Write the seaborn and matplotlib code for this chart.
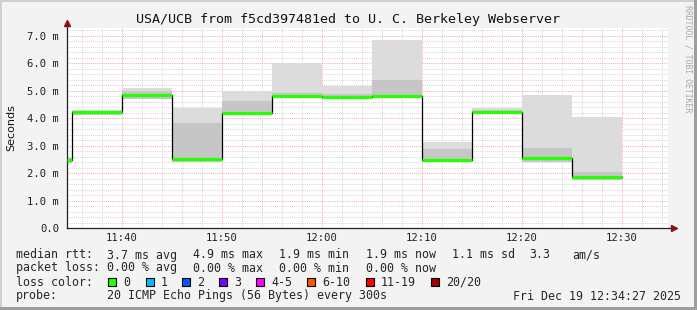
import numpy as np
import pandas as pd
import matplotlib
matplotlib.use("Agg")
import matplotlib.pyplot as plt
from matplotlib.patches import Rectangle
import seaborn as sns

# ---------------- data ----------------
# interval start times (hh:mm:ss); each value holds until the next start
interval_start = ["11:34:30", "11:35", "11:40", "11:45", "11:50", "11:55",
                  "12:00", "12:05", "12:10", "12:15", "12:20", "12:25"]
interval_end = "12:30"
median_ms = [2.48, 4.22, 4.84, 2.52, 4.19, 4.81, 4.78, 4.81, 2.48, 4.24, 2.54, 1.87]
smoke_low = [2.38, 4.11, 4.70, 2.39, 4.13, 4.76, 4.74, 4.76, 2.43, 4.15, 2.42, 1.75]
smoke_mid = [2.53, 4.27, 4.99, 3.83, 4.62, 4.92, 4.86, 5.39, 2.86, 4.30, 2.90, 2.05]
smoke_high = [2.57, 4.30, 5.09, 4.38, 4.99, 6.00, 5.18, 6.84, 3.13, 4.38, 4.84, 4.05]

x_tick_labels = ["11:40", "11:50", "12:00", "12:10", "12:20", "12:30"]
y_tick_values = [0, 1, 2, 3, 4, 5, 6, 7]
y_tick_labels = ["0.0", "1.0 m", "2.0 m", "3.0 m", "4.0 m", "5.0 m", "6.0 m", "7.0 m"]

title = "USA/UCB from f5cd397481ed to U. C. Berkeley Webserver"
legend_rows = [
    ("median rtt:", [("3.7 ms avg", 107), ("4.9 ms max", 193), ("1.9 ms min", 279),
                     ("1.9 ms now", 366), ("1.1 ms sd", 452), ("3.3", 529), ("am/s", 572)]),
    ("packet loss:", [("0.00 % avg", 107), ("0.00 % max", 193), ("0.00 % min", 279),
                      ("0.00 % now", 366)]),
]
loss_labels = ["0", "1", "2", "3", "4-5", "6-10", "11-19", "20/20"]
loss_colors = ["#26ff00", "#00b8ff", "#0059ff", "#7e00ff", "#ff00ff", "#ff5500", "#ff0000", "#a10000"]
probe_text = "20 ICMP Echo Pings (56 Bytes) every 300s"
stamp_text = "Fri Dec 19 12:34:27 2025"


def to_min(s):
    p = [int(v) for v in s.split(":")]
    while len(p) < 3:
        p.append(0)
    return p[0] * 60 + p[1] + p[2] / 60.0


xs = [to_min(s) for s in interval_start] + [to_min(interval_end)]
df = pd.DataFrame({
    "t": xs,
    "median": median_ms + [median_ms[-1]],
    "low": smoke_low + [smoke_low[-1]],
    "mid": smoke_mid + [smoke_mid[-1]],
    "high": smoke_high + [smoke_high[-1]],
})

# ---------------- figure ----------------
sns.set_theme(style="white")
plt.rcParams["font.family"] = ["DejaVu Sans Mono", "DejaVu Sans"]

W, H = 697, 310
fig = plt.figure(figsize=(W / 100, H / 100), dpi=100)
fig.patch.set_facecolor("#f3f3f3")

L, R, T, B = 67, 668, 28, 228
ax = fig.add_axes([L / W, 1 - B / H, (R - L) / W, (B - T) / H])
ax.set_facecolor("white")

xmin, xmax = 694.5, 694.5 + (R - L) / 10.0
ymin, ymax = 0.0, 7.28
ax.set_xlim(xmin, xmax)
ax.set_ylim(ymin, ymax)

# grids
minor_col = "#d2d2d2"
major_col = "#f2a8a8"
dot = (0, (1, 1.2))
for v in np.arange(696, xmax, 2):
    if int(round(v)) % 10:
        ax.axvline(v, color=minor_col, lw=0.7, ls=dot, zorder=0)
for v in np.arange(0.2, ymax, 0.2):
    if abs(v - round(v)) > 1e-6:
        ax.axhline(v, color=minor_col, lw=0.7, ls=dot, zorder=0)
for v in range(700, 760, 10):
    ax.axvline(v, color=major_col, lw=0.7, ls=dot, zorder=0.5)
for v in range(1, 8):
    ax.axhline(v, color=major_col, lw=0.7, ls=dot, zorder=0.5)

# smoke
ax.fill_between(df["t"], df["low"], df["high"], step="post", color="#dcdcdc", lw=0, zorder=1)
ax.fill_between(df["t"], df["low"], df["mid"], step="post", color="#c6c6c6", lw=0, zorder=1.1)

# median step line (black) and loss-colored median bars
sns.lineplot(data=df, x="t", y="median", drawstyle="steps-post", color="black",
             lw=0.9, ax=ax, zorder=2, legend=False)
ax.hlines(median_ms, xs[:-1], xs[1:], colors=loss_colors[0], lw=2.3, zorder=3)

# axes styling
ax.set_xlabel("")
ax.set_ylabel("")
for s in ["top", "right"]:
    ax.spines[s].set_visible(False)
for s in ["left", "bottom"]:
    ax.spines[s].set_color("#202020")
    ax.spines[s].set_linewidth(0.9)

ax.set_xticks([to_min(s) for s in x_tick_labels])
ax.set_xticklabels(x_tick_labels, fontsize=7.6)
ax.set_yticks(y_tick_values)
ax.set_yticklabels(y_tick_labels, fontsize=7.6)
ax.set_xticks(np.arange(696, xmax, 2), minor=True)
ax.set_yticks(np.arange(0.2, ymax, 0.2), minor=True)
ax.tick_params(axis="both", which="major", length=3, width=0.7, color="#202020",
               direction="inout", labelcolor="#202020")
ax.tick_params(axis="x", which="major", pad=2)
ax.tick_params(axis="y", which="major", pad=4)
ax.tick_params(axis="both", which="minor", length=2, width=0.6, color="#404040",
               direction="inout")

# arrow heads
arrow_col = "#8b1010"
ax.plot([0, 0], [1, 1.02], transform=ax.transAxes, color="#202020", lw=0.9, clip_on=False)
ax.plot([1, 1.008], [0, 0], transform=ax.transAxes, color="#202020", lw=0.9, clip_on=False)
ax.plot([0], [1.025], transform=ax.transAxes, marker="^", ms=5, color=arrow_col, clip_on=False)
ax.plot([1.01], [0], transform=ax.transAxes, marker=">", ms=5, color=arrow_col, clip_on=False)


def fx(px):
    return px / W


def fy(py):
    return 1 - py / H


# title, y label, watermark
fig.text(fx(348), fy(19), title, ha="center", va="center", fontsize=9.6, color="#111111")
fig.text(fx(11), fy(128), "Seconds", rotation=90, ha="center", va="center",
         fontsize=8, color="#111111", family=["DejaVu Sans"])
fig.text(fx(688), fy(5), "RRDTOOL / TOBI OETIKER", rotation=-90, ha="center", va="top",
         fontsize=5.9, color="#a8a8a8")

# legend rows
lf = 8.4
row_y = [255, 268, 282, 296]
for (label, items), yy in zip(legend_rows, row_y[:2]):
    fig.text(fx(16), fy(yy), label, ha="left", va="center", fontsize=lf)
    for txt, xx in items:
        fig.text(fx(xx), fy(yy), txt, ha="left", va="center", fontsize=lf)

fig.text(fx(16), fy(row_y[2]), "loss color:", ha="left", va="center", fontsize=lf)
box_x = [108, 146, 182, 219, 256, 307, 366, 431]
for lab, col, bx in zip(loss_labels, loss_colors, box_x):
    fig.patches.append(Rectangle((fx(bx), fy(row_y[2] + 4)), 8 / W, 8 / H,
                                 transform=fig.transFigure, facecolor=col,
                                 edgecolor="black", lw=0.8))
    fig.text(fx(bx + 15), fy(row_y[2]), lab, ha="left", va="center", fontsize=lf)

fig.text(fx(16), fy(row_y[3]), "probe:", ha="left", va="center", fontsize=lf)
fig.text(fx(107), fy(row_y[3]), probe_text, ha="left", va="center", fontsize=lf)
fig.text(fx(513), fy(row_y[3]), stamp_text, ha="left", va="center", fontsize=lf)

# 3D-ish frame like rrdtool
shadeA, shadeB = "#cfcfcf", "#9e9e9e"
fig.patches.append(Rectangle((0, 0), 2 / W, 1, transform=fig.transFigure, color=shadeA, lw=0))
fig.patches.append(Rectangle((0, 1 - 2 / H), 1, 2 / H, transform=fig.transFigure, color=shadeA, lw=0))
fig.patches.append(Rectangle((1 - 3 / W, 0), 3 / W, 1, transform=fig.transFigure, color=shadeB, lw=0))
fig.patches.append(Rectangle((0, 0), 1, 3 / H, transform=fig.transFigure, color=shadeB, lw=0))

fig.savefig("out.png", dpi=100, facecolor=fig.get_facecolor())
